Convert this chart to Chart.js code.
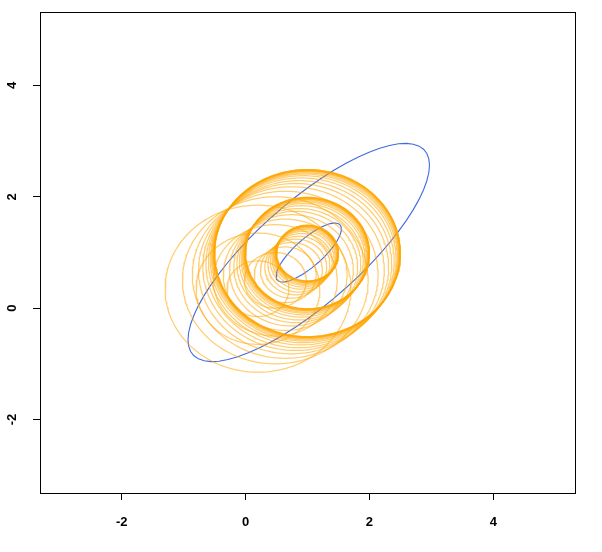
<!DOCTYPE html>
<html>
<head>
<meta charset="utf-8">
<script src="https://cdn.jsdelivr.net/npm/chart.js@4/dist/chart.umd.min.js"></script>
<style>
  body { margin: 0; background: #fff; }
</style>
</head>
<body>
<canvas id="myChart" width="602" height="552"></canvas>
<script>
// centres of the orange circles (path from lower left towards (1,1))
const centerX = [0.20, 0.48, 0.64, 0.74, 0.81, 0.86, 0.90, 0.93, 0.95, 0.965, 0.975, 0.983, 0.99, 0.993, 0.996, 0.998, 1.0, 1.0];
const centerY = [0.35, 0.50, 0.60, 0.68, 0.74, 0.79, 0.84, 0.88, 0.91, 0.93, 0.95, 0.96, 0.97, 0.975, 0.98, 0.985, 0.99, 0.99];
const circleRadii = [0.5, 1.0, 1.5];

// blue ellipses
const ellipseCenter = [1.02, 1.0];
const ellipseSd = [1.95, 1.96];
const ellipseRho = 0.8;
const ellipseScales = [1, 0.27];

const xTicks = [-2, 0, 2, 4];
const yTicks = [-2, 0, 2, 4];
const axisMin = -3.32;
const axisMax = 5.32;

const circlePoints = (cx, cy, r) => {
    const pts = [];
    for (let i = 0; i <= 200; i++) {
        const t = 2 * Math.PI * i / 200;
        pts.push({x: cx + r * Math.cos(t), y: cy + r * Math.sin(t)});
    }
    return pts;
};

const ellipsePoints = (k) => {
    const d = Math.acos(ellipseRho);
    const pts = [];
    for (let i = 0; i <= 60; i++) {
        const t = 2 * Math.PI * i / 60;
        pts.push({
            x: ellipseCenter[0] + k * ellipseSd[0] * Math.cos(t),
            y: ellipseCenter[1] + k * ellipseSd[1] * Math.cos(t - d)
        });
    }
    return pts;
};

const datasets = [];
circleRadii.forEach(r => {
    centerX.forEach((cx, i) => {
        datasets.push({
            data: circlePoints(cx, centerY[i], r),
            borderColor: 'rgba(255,165,0,0.55)',
            borderWidth: 1.25,
            showLine: true,
            pointRadius: 0,
            fill: false
        });
    });
});
ellipseScales.forEach(k => {
    datasets.push({
        data: ellipsePoints(k),
        borderColor: '#4169E1',
        borderWidth: 1.1,
        showLine: true,
        pointRadius: 0,
        fill: false
    });
});

const boxPlugin = {
    id: 'box',
    afterDraw(chart) {
        const {ctx, chartArea: a} = chart;
        ctx.save();
        ctx.strokeStyle = 'black';
        ctx.lineWidth = 1;
        ctx.strokeRect(Math.round(a.left) + 0.5, Math.round(a.top) + 0.5,
            Math.round(a.right - a.left), Math.round(a.bottom - a.top));
        ctx.restore();
    }
};

const tickFont = {family: '"Liberation Sans", Arial, sans-serif', size: 13, weight: 'bold'};

const ctx = document.getElementById('myChart').getContext('2d');
const myChart = new Chart(ctx, {
    type: 'scatter',
    data: {datasets: datasets},
    options: {
        responsive: false,
        animation: false,
        layout: {padding: {top: 12, right: 27, left: 0, bottom: 0}},
        plugins: {legend: {display: false}, tooltip: {enabled: false}},
        scales: {
            x: {
                min: axisMin,
                max: axisMax,
                afterBuildTicks: s => { s.ticks = xTicks.map(v => ({value: v})); },
                afterFit: s => { s.height = 59; s.paddingLeft = 0; s.paddingRight = 0; },
                grid: {drawOnChartArea: false, drawTicks: true, tickLength: 7, color: 'black'},
                border: {display: false},
                ticks: {color: 'black', font: tickFont, padding: 15, maxRotation: 0, minRotation: 0}
            },
            y: {
                min: axisMin,
                max: axisMax,
                afterBuildTicks: s => { s.ticks = yTicks.map(v => ({value: v})); },
                afterFit: s => { s.width = 40; s.paddingTop = 0; s.paddingBottom = 0; },
                grid: {drawOnChartArea: false, drawTicks: true, tickLength: 7, color: 'black'},
                border: {display: false},
                ticks: {color: 'black', font: tickFont, padding: 15, minRotation: 90, maxRotation: 90, crossAlign: 'center'}
            }
        }
    },
    plugins: [boxPlugin]
});
</script>
</body>
</html>
